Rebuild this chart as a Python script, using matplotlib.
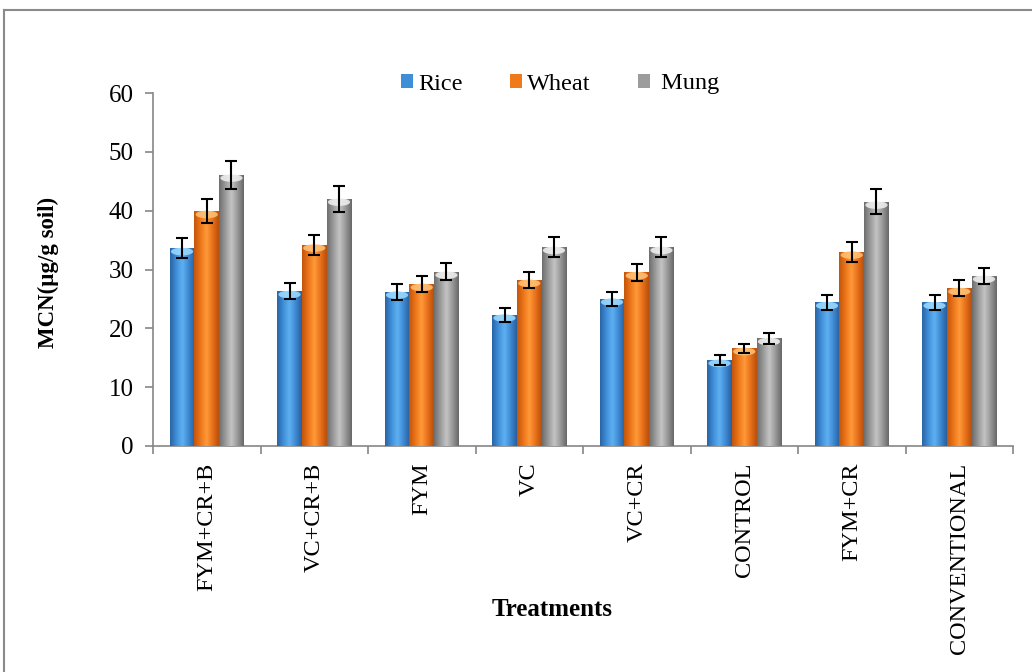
import numpy as np
import matplotlib
matplotlib.use("Agg")
import matplotlib.pyplot as plt
from matplotlib.colors import LinearSegmentedColormap
from matplotlib.patches import Ellipse, Patch
from matplotlib.lines import Line2D

# ---- data ----
treatments = ["FYM+CR+B", "VC+CR+B", "FYM", "VC", "VC+CR", "CONTROL", "FYM+CR", "CONVENTIONAL"]
series_names = ["Rice", "Wheat", "Mung"]
rice = [33.6, 26.3, 26.2, 22.3, 25.0, 14.6, 24.4, 24.4]
wheat = [39.9, 34.2, 27.5, 28.2, 29.5, 16.6, 33.0, 26.8]
mung = [46.1, 42.0, 29.6, 33.8, 33.8, 18.3, 41.5, 28.9]
rice_err = [1.7, 1.35, 1.35, 1.2, 1.25, 0.8, 1.25, 1.25]
wheat_err = [2.0, 1.7, 1.4, 1.4, 1.5, 0.8, 1.7, 1.35]
mung_err = [2.35, 2.15, 1.45, 1.7, 1.75, 0.9, 2.1, 1.4]
y_ticks = [0, 10, 20, 30, 40, 50, 60]

plt.rcParams["font.family"] = ["Liberation Serif", "DejaVu Serif"]

# cylinder-like shading: dark edge -> light centre -> dark edge
shades = {
    "Rice": ["#2a64a6", "#3f8fd8", "#5fb0f2", "#3d8ad2", "#2a5f9e"],
    "Wheat": ["#c2560c", "#ec7418", "#ff9a3a", "#e8701a", "#b8500c"],
    "Mung": ["#6e6e6e", "#9a9a9a", "#c4c4c4", "#989898", "#686868"],
}
base = {"Rice": "#3f8fd8", "Wheat": "#ef7a1a", "Mung": "#9c9c9c"}
caps = {"Rice": "#9fdcff", "Wheat": "#ffc47a", "Mung": "#f2f2f2"}

fig = plt.figure(figsize=(10.32, 6.72), dpi=100)
ax = fig.add_axes([153 / 1032, 1 - 446 / 672, 860 / 1032, 353 / 672])

x = np.arange(len(treatments))
w = 0.23
grad = np.linspace(0, 1, 64).reshape(1, -1)

for k, (name, vals, errs) in enumerate(zip(series_names, [rice, wheat, mung],
                                           [rice_err, wheat_err, mung_err])):
    cmap = LinearSegmentedColormap.from_list(name, shades[name])
    pos = x + (k - 1) * w
    bars = ax.bar(pos, vals, width=w, color=base[name], edgecolor="none", zorder=2)
    for b, v in zip(bars, vals):
        x0 = b.get_x()
        im = ax.imshow(grad, cmap=cmap, aspect="auto",
                       extent=(x0, x0 + w, 0, v), zorder=3, interpolation="bilinear")
        im.set_clip_path(b)
        # highlighted top rim
        ax.add_patch(Ellipse((x0 + w / 2, v - 0.55), w * 0.9, 1.3,
                             facecolor=caps[name], edgecolor="none", alpha=0.85, zorder=4))
    ax.errorbar(pos, vals, yerr=errs, fmt="none", ecolor="black",
                elinewidth=1.5, capsize=4.5, capthick=1.5, zorder=5)

ax.set_xlim(-0.5, len(treatments) - 0.5)
ax.set_ylim(0, 60)
ax.set_yticks(y_ticks)
ax.set_yticklabels([str(t) for t in y_ticks], fontsize=18)

ax.set_xticks(x)
ax.set_xticklabels(treatments, rotation=90, fontsize=17.5, va="top")
ax.set_xticks(np.arange(len(treatments) + 1) - 0.5, minor=True)
ax.tick_params(axis="x", which="major", length=0, pad=12)
ax.tick_params(axis="x", which="minor", length=6, color="#868686", width=1.2)
ax.tick_params(axis="y", length=6, color="#868686", width=1.2, pad=8)

for s in ["top", "right"]:
    ax.spines[s].set_visible(False)
for s in ["left", "bottom"]:
    ax.spines[s].set_color("#868686")
    ax.spines[s].set_linewidth(1.2)

ax.set_ylabel("MCN(µg/g soil)", fontsize=16.5, fontweight="bold")
ax.yaxis.set_label_coords((48 - 153) / 860, (446 - 272) / 353)
ax.set_xlabel("Treatments", fontsize=18, fontweight="bold")
ax.xaxis.set_label_coords((552 - 153) / 860, (446 - 610) / 353)
ax.xaxis.label.set_va("center")
ax.yaxis.label.set_va("center")

handles = [Patch(facecolor=base[n], edgecolor="none") for n in series_names]
legend_labels = ["Rice", "Wheat", " Mung"]
fig.legend(handles, legend_labels, loc="center", ncol=3, frameon=False,
           bbox_to_anchor=(560 / 1032, 1 - 84 / 672), fontsize=17.5,
           handlelength=0.5, handleheight=0.5, handletextpad=0.2,
           columnspacing=1.95)

# outer frame
fig.add_artist(Line2D([4 / 1032, 4 / 1032], [0, 1 - 10 / 672], color="#8a8a8a", lw=1.5))
fig.add_artist(Line2D([4 / 1032, 1], [1 - 10 / 672, 1 - 10 / 672], color="#8a8a8a", lw=1.5))

fig.savefig("out.png", dpi=100)
